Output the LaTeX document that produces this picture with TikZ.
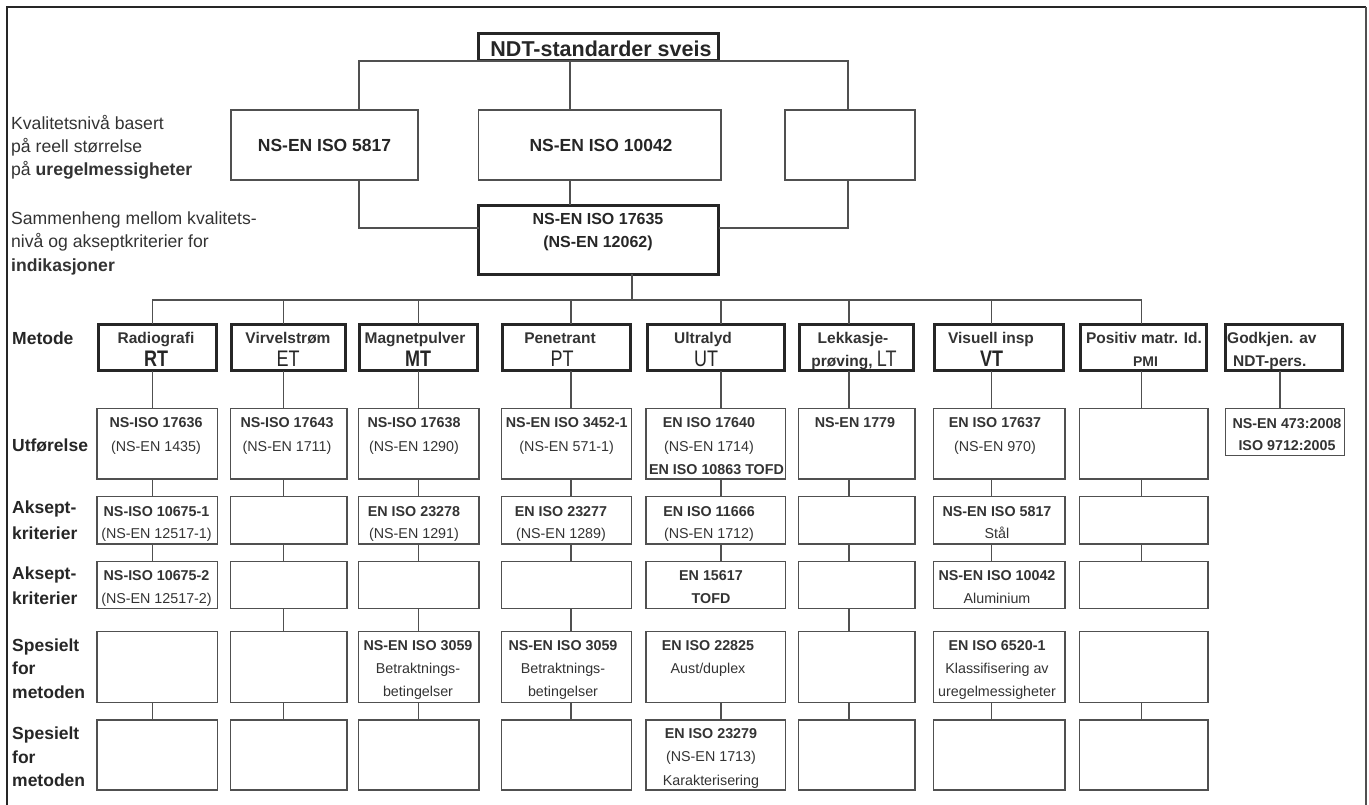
\documentclass[tikz,border=0pt]{standalone}
\usepackage{fontspec}
\setmainfont{Liberation Sans}
\newfontfamily\condf{Liberation Sans}[FakeStretch=0.8]
\definecolor{lc}{HTML}{505050}
\definecolor{tk}{HTML}{262626}
\definecolor{txc}{HTML}{333333}
\newcommand\myfs[2]{\fontsize{#1}{#2}\selectfont}
\newcommand\mybox[6][bx]{%
 \pgfmathsetmacro\bw{(#5)-(#3)}\pgfmathsetmacro\bh{(#6)-(#4)}%
 \pgfmathsetmacro\bcx{((#3)+(#5))/2}\pgfmathsetmacro\bcy{((#4)+(#6))/2}%
 \node[#1,minimum width=\bw pt,minimum height=\bh pt] (#2) at (\bcx,\bcy) {};}
\newcommand\tx[5][bt]{%
 \pgfmathsetmacro\ty{(#4)-18}%
 \node[anchor=north,#1] (#2) at (#3,\ty) {\rule{0pt}{18pt}#5};}
\tikzset{
 ln/.style={draw=lc,line width=1.3pt},
 bx/.style={draw=lc,line width=1.3pt,inner sep=0pt,outer sep=0pt,rectangle},
 tbx/.style={draw=tk,line width=3pt,inner sep=0pt,outer sep=0pt,rectangle},
 bt/.style={inner sep=0pt,align=center,text=txc,font=\myfs{14.3}{23.3}},
 mt/.style={inner sep=0pt,align=center,text=txc,font=\bfseries\myfs{15.5}{20}},
 mc/.style={inner sep=0pt,align=center,text=tk,font=\condf\myfs{22.5}{24}},
 rl/.style={inner sep=0pt,align=left,anchor=north west,text=tk,font=\bfseries\myfs{17.5}{23.3}},
 lt/.style={inner sep=0pt,align=left,anchor=north west,text=txc,font=\myfs{17.6}{23}},
}
\begin{document}
\begin{tikzpicture}[x=1pt,y=-1pt]
\useasboundingbox (0,0) rectangle (1369,805);
% frame
\draw[tk,line width=2.6pt] (7,805) -- (7,7) -- (1366,7);
\draw[lc,line width=1.5pt] (1366,7) -- (1366,805);

% top part
\mybox[tbx]{title}{478.5}{33.5}{718.5}{61}
\tx[inner sep=0pt,align=center,text=tk,font=\bfseries\myfs{21.5}{24}]{titleT}{601}{56}{NDT-standarder sveis}
\mybox{q5817}{231}{110}{418}{180}
\mybox{q10042}{478.6}{110}{721}{180}
\mybox{qE}{785}{110}{915}{180}
\mybox[tbx]{q17635}{478.5}{205.5}{718.5}{274.5}
\tx[bt,text=tk,font=\bfseries\myfs{17.5}{20}]{t5817}{324.5}{151.3}{NS-EN ISO 5817}
\tx[bt,text=tk,font=\bfseries\myfs{17.5}{20}]{t10042}{601}{151.3}{NS-EN ISO 10042}
\tx[bt,text=tk,font=\bfseries\myfs{16}{24}]{t17635}{598}{223.8}{NS-EN ISO 17635\\(NS-EN 12062)}

\coordinate (bL) at (359,0);
\coordinate (bM) at (570,0);
\coordinate (bR) at (848,0);
\coordinate (jL) at (0,228);
\coordinate (bC) at (632,0);
\coordinate (busY) at (0,300);
\draw[ln] (q5817.north -| bL) |- (title.south) -| (qE.north -| bR);
\draw[ln] (q10042.north -| bM) -- (title.south -| bM);
\draw[ln] (q5817.south -| bL) |- (q17635.west |- jL);
\draw[ln] (q10042.south -| bM) -- (q17635.north -| bM);
\draw[ln] (qE.south -| bR) |- (q17635.east |- jL);

% left texts
\tx[lt]{l1}{11}{129.3}{Kvalitetsnivå basert\\på reell størrelse\\på \textbf{uregelmessigheter}}
\tx[lt,font=\myfs{17.6}{23.5}]{l2}{11}{224.3}{Sammenheng mellom kvalitets-\\nivå og akseptkriterier for\\\textbf{indikasjoner}}

% row labels
\tx[rl]{r1}{12}{344}{Metode}
\tx[rl]{r2}{12}{451.3}{Utførelse}
\tx[rl,font=\bfseries\myfs{17.5}{26.3}]{r3}{12}{513}{Aksept-\\kriterier}
\tx[rl,font=\bfseries\myfs{17.5}{25}]{r4}{12}{579.6}{Aksept-\\kriterier}
\tx[rl]{r5}{12}{651.3}{Spesielt\\for\\metoden}
\tx[rl]{r6}{12}{739.6}{Spesielt\\for\\metoden}

% columns
\foreach \i/\xa/\xb/\lx in {1/97/217.5/152.7,2/230.5/347/283.3,3/358.5/479/418.3,4/501.5/631.7/571,5/646/785.7/721,6/798.5/915/849,7/933.5/1065/991.7,8/1079.5/1208/1141.7}{
  \coordinate (c\i) at (\lx,0);
  \mybox[tbx]{m\i}{\xa+1.2}{324.2}{\xb-1.2}{370.8}
  \mybox{u\i}{\xa}{408.3}{\xb}{479}
  \mybox{a\i}{\xa}{496.7}{\xb}{544}
  \mybox{b\i}{\xa}{561.7}{\xb}{608.3}
  \mybox{s\i}{\xa}{631.7}{\xb}{702.3}
  \mybox{t\i}{\xa}{720}{\xb}{790}
}
\coordinate (c9) at (1280,0);
\mybox[tbx]{m9}{1225.2}{324.2}{1342.8}{370.8}
\mybox{u9}{1225.7}{408.3}{1344.3}{455.7}

% connectors
\draw[ln] (q17635.south -| bC) -- (busY -| bC);
\draw[ln] (m1.north -| c1) |- (busY -| c8) -- (m8.north -| c8);
\foreach \i in {2,...,7}{\draw[ln] (m\i.north -| c\i) -- (busY -| c\i);}
\foreach \i in {1,...,8}{
  \draw[ln] (m\i.south -| c\i) -- (u\i.north -| c\i);
  \draw[ln] (u\i.south -| c\i) -- (a\i.north -| c\i);
  \draw[ln] (a\i.south -| c\i) -- (b\i.north -| c\i);
  \draw[ln] (s\i.south -| c\i) -- (t\i.north -| c\i);
}
\foreach \i in {2,3,4,6}{\draw[ln] (b\i.south -| c\i) -- (s\i.north -| c\i);}
\draw[ln] (m9.south -| c9) -- (u9.north -| c9);

% method texts
\tx[mt]{mt1}{156}{343.6}{Radiografi}
\tx[mc,font=\condf\bfseries\myfs{22.5}{24}]{mc1}{156}{366.5}{RT}
\tx[mt]{mt2}{288}{343.6}{Virvelstrøm}
\tx[mc]{mc2}{288}{366.5}{ET}
\tx[mt]{mt3}{415}{343.6}{Magnetpulver}
\tx[mc,font=\condf\bfseries\myfs{22.5}{24}]{mc3}{418}{366.5}{MT}
\tx[mt]{mt4}{560}{343.6}{Penetrant}
\tx[mc]{mc4}{562}{366.5}{PT}
\tx[mt]{mt5}{703}{343.6}{Ultralyd}
\tx[mc]{mc5}{706}{366.5}{UT}
\tx[mt]{mt6}{853}{343.6}{Lekkasje-}
\tx[mt]{mc6}{854}{366.5}{prøving, {\condf\mdseries\myfs{22.5}{24}LT}}
\tx[mt]{mt7}{991}{343.6}{Visuell insp}
\tx[mc,font=\condf\bfseries\myfs{22.5}{24}]{mc7}{991.5}{366.5}{VT}
\tx[mt]{mt8}{1144}{343.6}{Positiv matr. Id.}
\tx[mt,font=\bfseries\myfs{14}{16}]{mc8}{1145.5}{366.6}{PMI}
\tx[mt,anchor=north west]{mt9}{1227}{343.5}{Godkjen. av}
\tx[mt,anchor=north west]{mc9}{1233}{366.7}{NDT-pers.}

% Utførelse row
\tx{tu1}{156}{427.6}{\textbf{NS-ISO 17636}\\(NS-EN 1435)}
\tx{tu2}{287}{427.6}{\textbf{NS-ISO 17643}\\(NS-EN 1711)}
\tx{tu3}{414}{427.6}{\textbf{NS-ISO 17638}\\(NS-EN 1290)}
\tx{tu4}{566.7}{427.6}{\textbf{NS-EN ISO 3452-1}\\(NS-EN 571-1)}
\tx{tu5}{709}{427.6}{\textbf{EN ISO 17640}\\(NS-EN 1714)}
\tx{tu5b}{716.5}{474.1}{\textbf{EN ISO 10863 TOFD}}
\tx{tu6}{855}{427.6}{\textbf{NS-EN 1779}}
\tx{tu7}{995}{427.6}{\textbf{EN ISO 17637}\\(NS-EN 970)}
\tx[bt,font=\bfseries\myfs{14.3}{22.3}]{tu9}{1287}{427.8}{NS-EN 473:2008\\ISO 9712:2005}

% Akseptkriterier 1
\tx[bt,font=\myfs{14.3}{22.5}]{ta1}{156.5}{515.8}{\textbf{NS-ISO 10675-1}\\(NS-EN 12517-1)}
\tx[bt,font=\myfs{14.3}{22.5}]{ta3}{414}{515.8}{\textbf{EN ISO 23278}\\(NS-EN 1291)}
\tx[bt,font=\myfs{14.3}{22.5}]{ta4}{561}{515.8}{\textbf{EN ISO 23277}\\(NS-EN 1289)}
\tx[bt,font=\myfs{14.3}{22.5}]{ta5}{709}{515.8}{\textbf{EN ISO 11666}\\(NS-EN 1712)}
\tx[bt,font=\myfs{14.3}{22.5}]{ta7}{997}{515.8}{\textbf{NS-EN ISO 5817}\\Stål}

% Akseptkriterier 2
\tx[bt,font=\myfs{14.3}{22.7}]{tb1}{156.5}{580.1}{\textbf{NS-ISO 10675-2}\\(NS-EN 12517-2)}
\tx[bt,font=\bfseries\myfs{14.3}{22.7}]{tb5}{711}{580.1}{EN 15617\\TOFD}
\tx[bt,font=\myfs{14.3}{22.7}]{tb7}{997}{580.1}{\textbf{NS-EN ISO 10042}\\Aluminium}

% Spesielt 1
\tx{ts3}{418}{650.1}{\textbf{NS-EN ISO 3059}\\Betraktnings-\\betingelser}
\tx{ts4}{563}{650.1}{\textbf{NS-EN ISO 3059}\\Betraktnings-\\betingelser}
\tx{ts5}{708}{650.1}{\textbf{EN ISO 22825}\\Aust/duplex}
\tx{ts7}{997}{650.1}{\textbf{EN ISO 6520-1}\\Klassifisering av\\uregelmessigheter}

% Spesielt 2
\tx{tt5}{711}{738.4}{\textbf{EN ISO 23279}\\(NS-EN 1713)\\Karakterisering}
\end{tikzpicture}
\end{document}
